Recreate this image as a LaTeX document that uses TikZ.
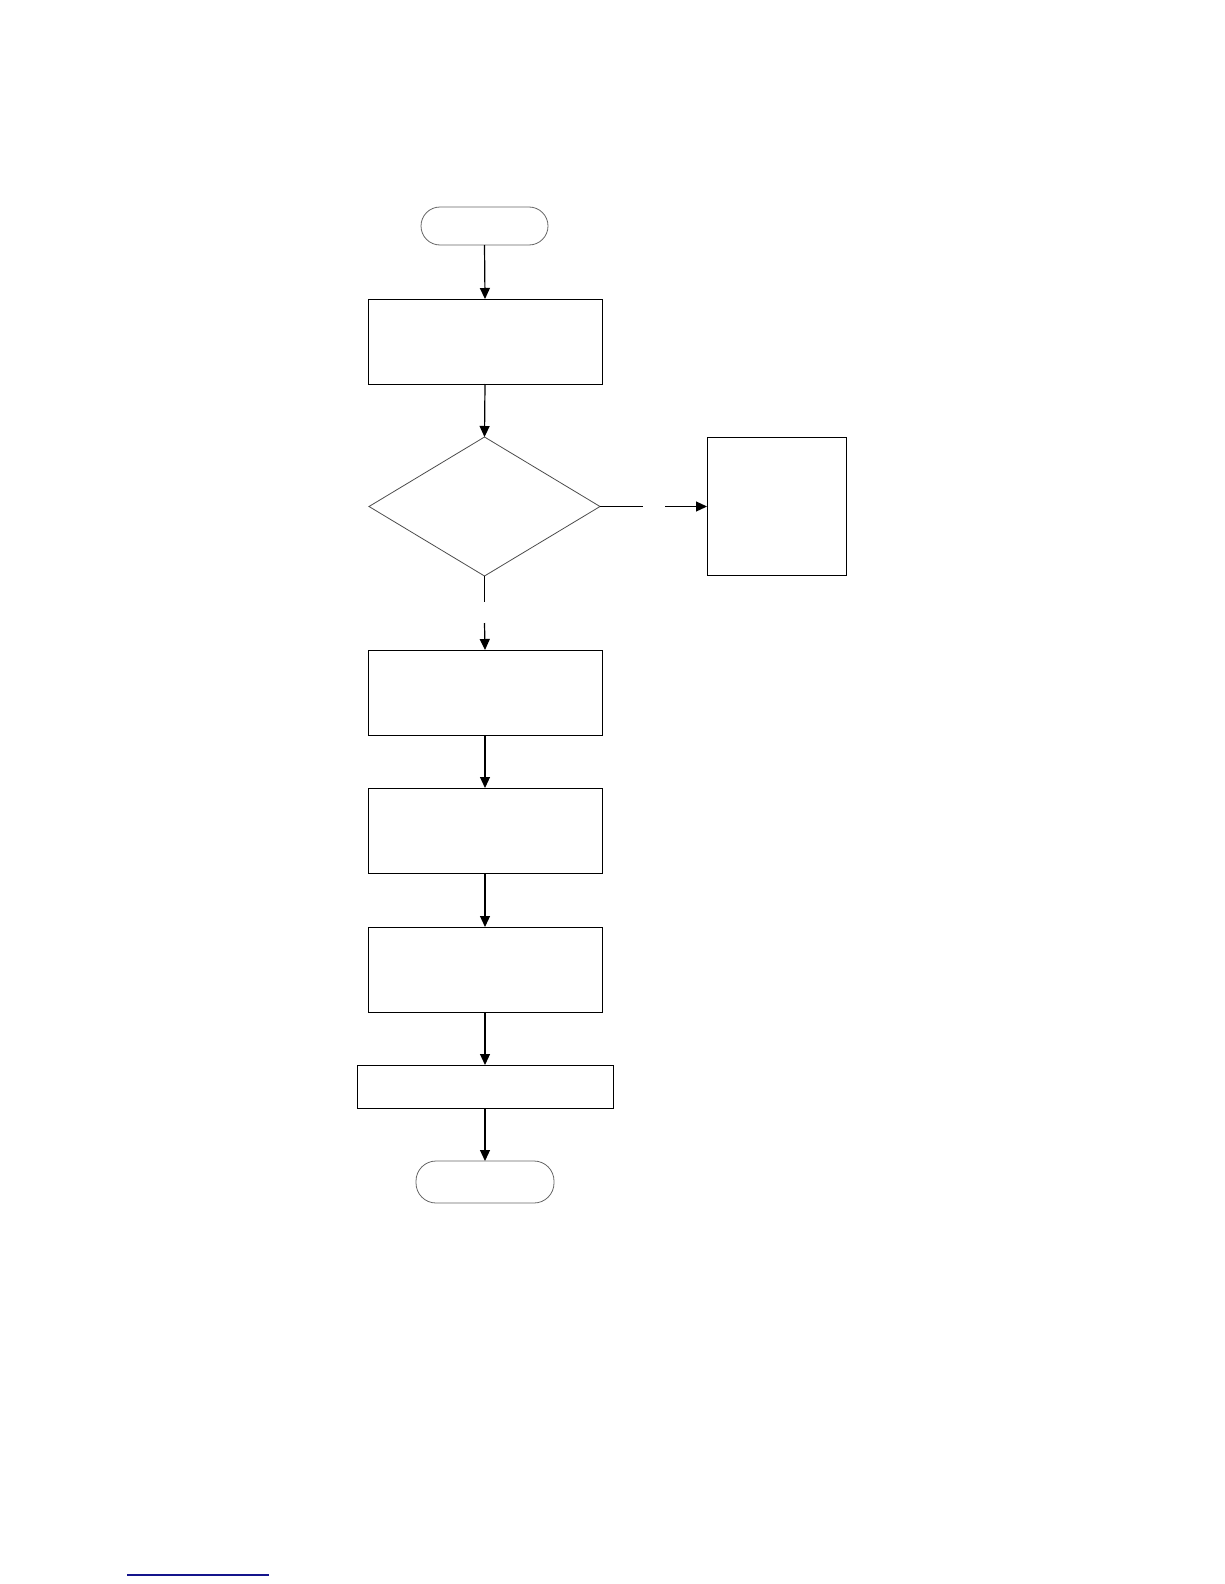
\documentclass[tikz,border=0pt]{standalone}
\usetikzlibrary{shapes.geometric,arrows.meta}
\definecolor{navy}{RGB}{20,20,140}
\tikzset{
  boxnode/.style={draw=black,line width=1pt,rectangle,inner sep=0pt,outer sep=0pt,minimum width=234pt,minimum height=85pt},
  termnode/.style={draw=black!60,line width=0.8pt,rectangle,rounded corners=19pt,inner sep=0pt,outer sep=0pt},
  decnode/.style={draw=black!70,line width=0.8pt,diamond,aspect=1.66,inner sep=0pt,outer sep=0pt,minimum width=231pt,minimum height=139pt},
  conn/.style={line width=1.2pt,black},
  arr/.style={conn,-{Triangle[length=11pt,width=10pt]}}
}
\begin{document}
\begin{tikzpicture}[x=1pt,y=-1pt]
\useasboundingbox (0,0) rectangle (1224,1584);
\node[termnode,minimum width=127pt,minimum height=38pt] (start) at (484.5,226) {};
\node[boxnode] (b1) at (485,341.5) {};
\node[decnode] (dec) at (484.5,506.5) {};
\node[boxnode,minimum width=139pt,minimum height=138pt] (right) at (776.5,506) {};
\node[boxnode] (b2) at (485,692.5) {};
\node[boxnode] (b3) at (485,830.5) {};
\node[boxnode] (b4) at (485,969.5) {};
\node[boxnode,minimum width=256pt,minimum height=43pt] (b5) at (485,1086.5) {};
\node[termnode,minimum width=138pt,minimum height=42pt,rounded corners=20pt] (end) at (485,1182) {};
\coordinate (g1) at (643,506.5);
\coordinate (g2) at (665,506.5);
\coordinate (g3) at (484.5,602);
\coordinate (g4) at (484.5,623);
\draw[arr] (start.south) -- (b1.north);
\draw[arr] (b1.south) -- (dec.north);
\draw[conn] (dec.east) -- (g1);
\draw[arr] (g2) -- (right.west |- g2);
\draw[conn] (dec.south) -- (g3);
\draw[arr] (g4) -- (b2.north);
\draw[arr] (b2.south) -- (b3.north);
\draw[arr] (b3.south) -- (b4.north);
\draw[arr] (b4.south) -- (b5.north);
\draw[arr] (b5.south) -- (end.north);
\coordinate (f1) at (127,1575);
\coordinate (f2) at (269,1575);
\draw[navy,line width=1.2pt] (f1) -- (f2);
\end{tikzpicture}
\end{document}
